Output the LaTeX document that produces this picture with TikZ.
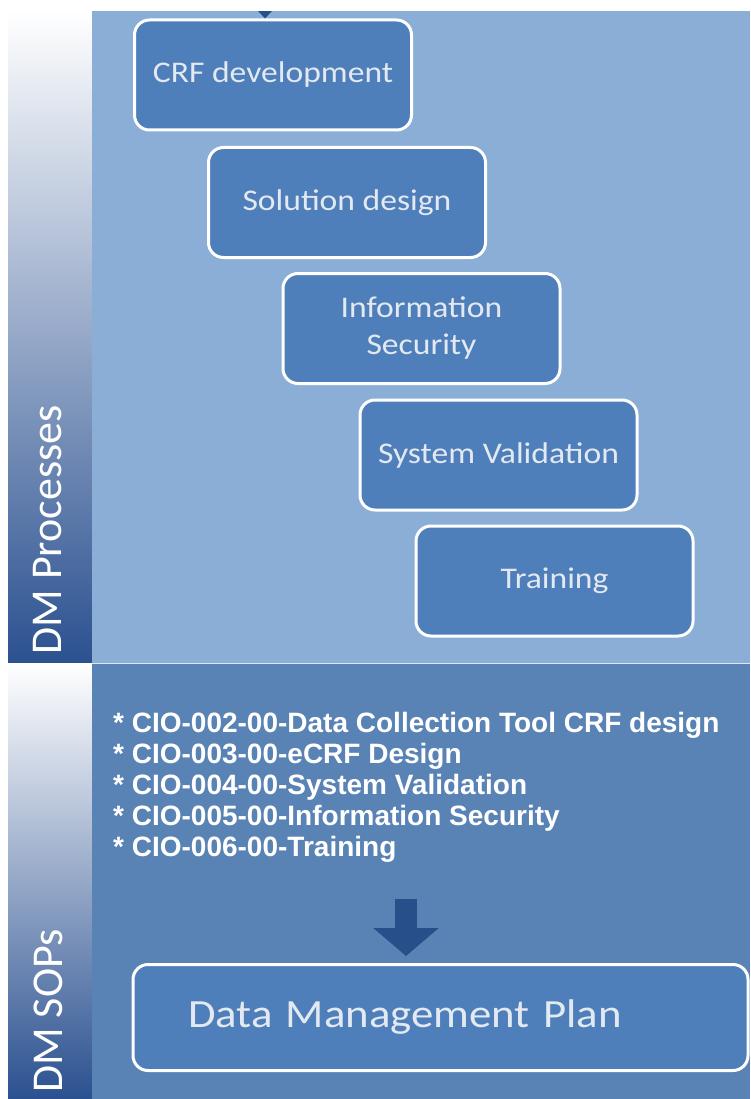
\documentclass[tikz,border=0pt]{standalone}
\usepackage{fontspec}
\usetikzlibrary{arrows.meta}
\newfontfamily\boxfont[FakeStretch=1.12]{Carlito}
\newfontfamily\sidefont{Carlito}
\newfontfamily\sopfont{Liberation Sans Bold}
\definecolor{panelup}{HTML}{8BAED7}
\definecolor{paneldown}{HTML}{5A83B5}
\definecolor{boxfill}{HTML}{4F7FBA}
\definecolor{boxtext}{HTML}{E3E9F1}
\definecolor{darkblue}{HTML}{27508A}
\definecolor{stripdark}{HTML}{2B5190}
\definecolor{stripmid}{HTML}{C9D1DD}
\tikzset{
  stepbox/.style={draw=white, line width=3pt, fill=boxfill, rounded corners=15pt,
    minimum width=277pt, minimum height=110pt, inner sep=0pt, align=center,
    text=boxtext, font=\boxfont\fontsize{30}{37}\selectfont},
  sidelabel/.style={rotate=90, text=white, font=\sidefont\fontsize{44}{44}\selectfont, inner sep=0pt},
  sopline/.style={anchor=base west, inner sep=0pt, text=white, font=\sopfont\fontsize{28}{31}\selectfont},
  bigarrow/.style={draw=darkblue, line width=22pt, -{Triangle[width=64pt,length=28pt]}},
  smallarrow/.style={draw=darkblue, line width=6pt, -{Triangle[width=18pt,length=10pt]}}
}
\begin{document}
\begin{tikzpicture}[x=1pt,y=-1pt]
\useasboundingbox (0,0) rectangle (750,1099);
\fill[white] (0,0) rectangle (750,1099);
% left strips
\shade[top color=white, middle color=stripmid, bottom color=stripdark] (8,11) rectangle (92,663);
\shade[top color=white, middle color=stripmid, bottom color=stripdark] (8,663) rectangle (92,1099);
% panels
\fill[panelup] (92,11) rectangle (750,663);
\fill[paneldown] (92,663) rectangle (750,1099);
\draw[white!70!panelup, line width=1pt] (92,663.5) -- (750,663.5);
% side labels
\node[sidelabel] (lproc) at (48,530) {DM Processes};
\node[sidelabel] (lsop) at (48,1011) {DM SOPs};
% process boxes
\node[stepbox] (b1) at (273,75) {CRF development};
\node[stepbox] (b2) at (347,202.5) {Solution design};
\node[stepbox] (b3) at (421.5,328.5) {Information\\Security};
\node[stepbox] (b4) at (498.5,455) {System Validation};
\node[stepbox] (b5) at (554.5,581) {Training};
% incoming arrow at top
\coordinate (topin) at (265,-20);
\draw[smallarrow] (topin) -- (topin |- b1.north);
\fill[white] (0,0) rectangle (750,11);
\fill[white] (0,0) rectangle (8,1099);
% SOP list
\node[sopline] (s1) at (113,732) {* CIO-002-00-Data Collection Tool CRF design};
\node[sopline] (s2) at (113,763) {* CIO-003-00-eCRF Design};
\node[sopline] (s3) at (113,794) {* CIO-004-00-System Validation};
\node[sopline] (s4) at (113,825) {* CIO-005-00-Information Security};
\node[sopline] (s5) at (113,856) {* CIO-006-00-Training};
% data management plan
\node[draw=white, line width=3pt, fill=boxfill, rounded corners=15pt, minimum height=106pt,
  text width=505pt, inner xsep=55pt, inner ysep=0pt, align=left, text=boxtext,
  font=\boxfont\fontsize{40}{40}\selectfont] (dmp) at (440.5,1017.5) {Data Management Plan};
\coordinate (arrtop) at (406,899);
\draw[bigarrow, shorten >=7pt] (arrtop) -- (arrtop |- dmp.north);
\end{tikzpicture}
\end{document}
